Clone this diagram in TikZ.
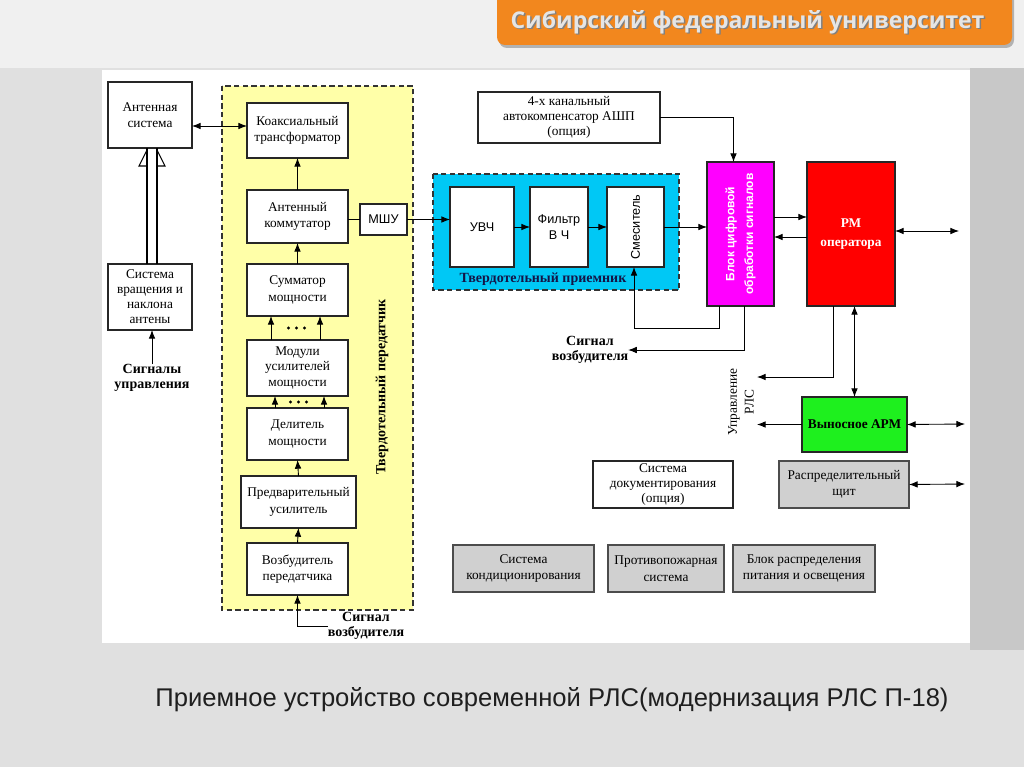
\documentclass[tikz,border=0pt]{standalone}
\usepackage{fontspec}
\setmainfont{Liberation Serif}
\newfontfamily\sansf{Liberation Sans}
\newfontfamily\titlef{Open Sans}
\usetikzlibrary{arrows.meta,calc}
\definecolor{bgc}{RGB}{224,224,224}
\definecolor{bgd}{RGB}{200,200,200}
\definecolor{ylw}{RGB}{255,255,168}
\definecolor{cyn}{RGB}{0,200,245}
\definecolor{mgt}{RGB}{255,0,255}
\definecolor{rd}{RGB}{255,0,0}
\definecolor{grn}{RGB}{30,240,30}
\definecolor{gry}{RGB}{208,208,208}
\definecolor{orng}{RGB}{242,135,30}
\definecolor{navy}{RGB}{20,20,70}
\newcommand\bx[7]{\node[#6, minimum width={(#4-#2)*0.75pt}, minimum height={(#5-#3)*0.75pt}] (#1) at ({(#2+#4)/2},{(#3+#5)/2}) {#7};}
\tikzset{
  box/.style={draw=black!85, line width=0.9pt, fill=white, inner sep=0pt, outer sep=0pt, align=center, font=\fontsize{10}{12.3}\selectfont},
  box3/.style={box, font=\fontsize{10}{11.3}\selectfont},
  sbox/.style={box, font=\sansf\fontsize{9.5}{12}\selectfont},
  gbox/.style={box, fill=gry, draw=black!70},
  lbl/.style={inner sep=0pt, outer sep=0pt, align=center, font=\bfseries\fontsize{10.5}{11.5}\selectfont},
  arr/.style={-{Latex[length=6.5pt,width=5pt]}, line width=0.65pt},
  darr/.style={{Latex[length=6.5pt,width=5pt]}-{Latex[length=6.5pt,width=5pt]}, line width=0.65pt},
  region/.style={draw=black!80, line width=0.8pt, dash pattern=on 4pt off 2.5pt},
}
\begin{document}
\begin{tikzpicture}[x=0.75pt,y=-0.75pt]
\useasboundingbox (0,0) rectangle (1024,767);
% slide background
\fill[bgc] (0,0) rectangle (1024,767);
\fill[black!6] (0,0) rectangle (1024,68);
\fill[bgd] (970,68) rectangle (1024,650);
\fill[white] (102,70) rectangle (970,643);
% title banner
\fill[black!30, rounded corners=6pt] (499,-10) rectangle (1014,48);
\fill[orng, rounded corners=6pt] (497,-10) rectangle (1012,45);
\node[font=\titlef\bfseries\fontsize{17.3}{20}\selectfont, text=black!50] (titsh) at (749,23.5) {Сибирский федеральный университет};
\node[font=\titlef\bfseries\fontsize{17.3}{20}\selectfont, text=black!10] (tit) at (747.5,22) {Сибирский федеральный университет};
% regions
\fill[ylw] (222,86) rectangle (413,610);
\draw[region] (222,86) rectangle (413,610);
\fill[cyn] (433,174) rectangle (679,290);
\draw[region] (433,174) rectangle (679,290);
\node[lbl, rotate=90] (txlbl) at (382,387) {Твердотельный передатчик};
\node[lbl, text=navy] (rxlbl) at (543,279) {Твердотельный приемник};
% left column
\bx{ant}{108}{82}{192}{148}{box}{Антенная\\система}
\bx{rot}{108}{264}{192}{330}{box3}{Система\\вращения и\\наклона\\антены}
\node[lbl] (sig1) at (152,378) {Сигналы\\управления};
% transmitter
\bx{coax}{247}{103}{348}{158}{box}{Коаксиальный\\трансформатор}
\bx{comm}{247}{190}{348}{243}{box}{Антенный\\коммутатор}
\bx{sum}{247}{264}{348}{316}{box}{Сумматор\\мощности}
\bx{mod}{247}{340}{348}{396}{box3}{Модули\\усилителей\\мощности}
\bx{div}{247}{408}{348}{460}{box}{Делитель\\мощности}
\bx{pre}{241}{476}{356}{528}{box}{Предварительный\\усилитель}
\bx{exc}{247}{543}{348}{595}{box}{Возбудитель\\передатчика}
\node[lbl] (sigexc) at (366,626) {Сигнал\\возбудителя};
\bx{mshu}{360}{204}{407}{235}{sbox}{МШУ}
% receiver
\bx{uvch}{450}{187}{514}{267}{sbox}{УВЧ}
\bx{filt}{530}{187}{588}{267}{sbox}{Фильтр\\В Ч}
\bx{mix}{607}{187}{664}{267}{sbox}{}
\node[rotate=90, font=\sansf\fontsize{9.5}{12}\selectfont, inner sep=0pt] (mixt) at (mix) {Смеситель};
\bx{ashp}{478}{92}{660}{143}{box3}{4-х канальный\\автокомпенсатор АШП\\(опция)}
% processing
\bx{dsp}{707}{162}{774}{306}{box, fill=mgt}{}
\node[rotate=90, align=center, text=white, font=\sansf\bfseries\fontsize{9}{14}\selectfont, inner sep=0pt] (dspt) at (dsp) {Блок цифровой\\обработки сигналов};
\bx{rm}{807}{162}{895}{306}{box, fill=rd, text=white, font=\bfseries\fontsize{10}{14}\selectfont}{РМ\\оператора}
\node[lbl] (sigexc2) at (590,350) {Сигнал\\возбудителя};
\node[rotate=90, align=center, inner sep=0pt, font=\fontsize{10}{12.5}\selectfont] (upr) at (741,402) {Управление\\РЛС};
\bx{arm}{802}{397}{907}{452}{box, fill=grn, font=\bfseries\fontsize{10}{12}\selectfont}{Выносное АРМ}
\bx{doc}{593}{461}{733}{508}{box3}{Система\\документирования\\(опция)}
\bx{dist}{779}{461}{909}{508}{gbox}{Распределительный\\щит}
\bx{cond}{453}{545}{594}{592}{gbox}{Система\\кондиционирования}
\bx{fire}{608}{545}{724}{592}{gbox}{Противопожарная\\система}
\bx{pwr}{733}{545}{875}{592}{gbox}{Блок распределения\\питания и освещения}
% free ends
\coordinate (u1) at (757,377);
\coordinate (u2) at (757,424);
\coordinate (rmout) at (959,231);
\coordinate (armout) at (965,424);
\coordinate (distout) at (965,484);
% connectors
\draw[darr] ($(ant.east)+(0,11)$) -- ($(coax.west)+(0,-4.5)$);
\draw[line width=0.8pt] ($(rot.north)+(-3,0)$) -- ($(ant.south)+(-3,0)$);
\draw[line width=0.8pt] ($(rot.north)+(7,0)$) -- ($(ant.south)+(7,0)$);
\draw[line width=0.8pt] ($(ant.south)+(-3,18)$) -- ($(ant.south)+(-11,18)$) -- ($(ant.south)+(-3,2)$);
\draw[line width=0.8pt] ($(ant.south)+(7,2)$) -- ($(ant.south)+(15,18)$) -- ($(ant.south)+(7,18)$);
\draw[arr] (sig1.north) -- (sig1.north |- rot.south);
\draw[arr] (comm.north) -- (coax.south);
\draw[arr] (sum.north) -- (comm.south);
\draw[arr] ($(mod.north)+(-26.5,0)$) -- ($(sum.south)+(-26.5,0)$);
\draw[arr] ($(mod.north)+(22.5,0)$) -- ($(sum.south)+(22.5,0)$);
\draw[arr] ($(div.north)+(-22.5,0)$) -- ($(mod.south)+(-22.5,0)$);
\draw[arr] ($(div.north)+(26.5,0)$) -- ($(mod.south)+(26.5,0)$);
\foreach \dx in {-8,0,8} {
  \fill ($(mod.north)+(\dx-1,-12)$) circle (1.6);
  \fill ($(div.north)+(\dx+1,-6)$) circle (1.6);
}
\draw[arr] (pre.north) -- (div.south);
\draw[arr] (exc.north) -- (pre.south);
\draw[arr] (sigexc.west) -| (exc.south);
\draw[line width=0.65pt] (mshu.west -| comm.east) -- (mshu.west);
\draw[arr] (mshu.east) -- (mshu.east -| uvch.west);
\draw[arr] (uvch.east) -- (filt.west);
\draw[arr] (filt.east) -- (mix.west);
\draw[arr] (mix.east) -- (mix.east -| dsp.west);
\draw[arr] (ashp.east) -| ($(dsp.north)+(-7,0)$);
\draw[arr] ($(dsp.south)+(-21.5,0)$) -- ++(0,22) -| ($(mix.south)+(-1.5,0)$);
\draw[arr] ($(dsp.south)+(3.5,0)$) |- (sigexc2.east);
\draw[arr] ($(dsp.east)+(0,-17)$) -- ($(rm.west)+(0,-17)$);
\draw[arr] ($(rm.west)+(0,3)$) -- ($(dsp.east)+(0,3)$);
\draw[darr] (rmout -| rm.east) -- (rmout);
\draw[arr] ($(rm.south)+(-18,0)$) |- (u1);
\draw[darr] (arm.north) -- (arm.north |- rm.south);
\draw[arr] (arm.west) -- (arm.west -| u2);
\draw[darr] (arm.east) -- (armout);
\draw[darr] (dist.east) -- (distout);
% caption
\node[font=\sansf\fontsize{19.2}{22}\selectfont, text=black!88] (cap) at (552,700) {Приемное устройство современной РЛС(модернизация РЛС П-18)};
\end{tikzpicture}
\end{document}
